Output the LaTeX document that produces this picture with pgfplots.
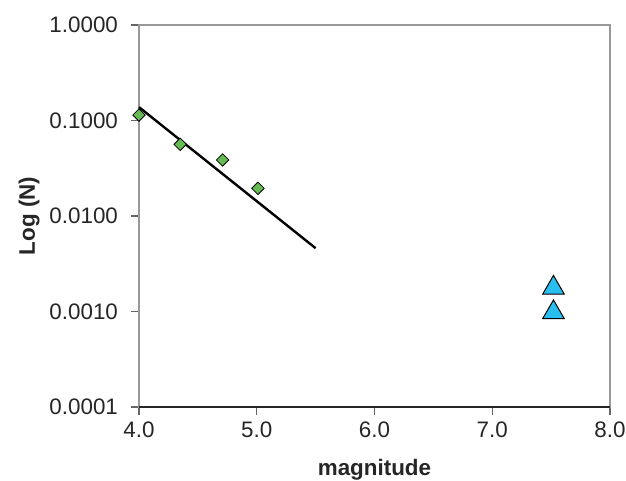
\documentclass[border=0pt]{standalone}
\usepackage{pgfplots}
\pgfplotsset{compat=1.18}
\usepackage{fontspec}
\setmainfont{Liberation Sans}
\definecolor{dgreen}{RGB}{102,187,85}
\definecolor{tcyan}{RGB}{40,190,240}
\begin{document}
\begin{tikzpicture}
\useasboundingbox (-69.5pt,-37pt) rectangle (243.5pt,203.5pt);
\begin{axis}[
  at={(0,0)}, anchor=south west,
  scale only axis, width=235.5pt, height=191pt,
  ymode=log, xmin=4, xmax=8, ymin=1e-4, ymax=1,
  xtick={4,5,6,7,8}, xticklabels={4.0,5.0,6.0,7.0,8.0},
  ytick={1e-4,1e-3,1e-2,1e-1,1}, yticklabels={0.0001,0.0010,0.0100,0.1000,1.0000},
  xminorticks=false, yminorticks=false,
  tick align=outside, major tick length=4pt,
  xtick pos=bottom, ytick pos=left,
  tick style={gray!80!black, line width=0.6pt},
  axis line style={gray!80, line width=0.6pt},
  ticklabel style={font=\fontsize{11.2}{13}\selectfont, text=black!85},
  yticklabel style={xshift=-3pt},
  label style={font=\fontsize{11.2}{13}\selectfont\bfseries, text=black!85},
  xlabel style={yshift=-4pt},
  ylabel style={yshift=-2pt},
  xlabel={magnitude}, ylabel={Log (N)},
  clip=false,
]
\draw[black!85, line width=0.7pt] (rel axis cs:0,0) -- (rel axis cs:1,0);
\addplot[black, line width=1.2pt] coordinates {(4.0,0.138) (5.5,0.0046)};
\addplot[only marks, mark=square*, mark size=2.2pt, mark options={rotate=45, fill=dgreen, draw=black, line width=0.4pt}]
  coordinates {(4.0,0.114) (4.35,0.0563) (4.71,0.0386) (5.01,0.0195)};
\addplot[only marks, mark=triangle*, mark size=6.2pt, mark options={fill=tcyan, draw=black, line width=0.5pt}]
  coordinates {(7.52,0.00177) (7.52,0.00098)};
\end{axis}
\end{tikzpicture}
\end{document}
